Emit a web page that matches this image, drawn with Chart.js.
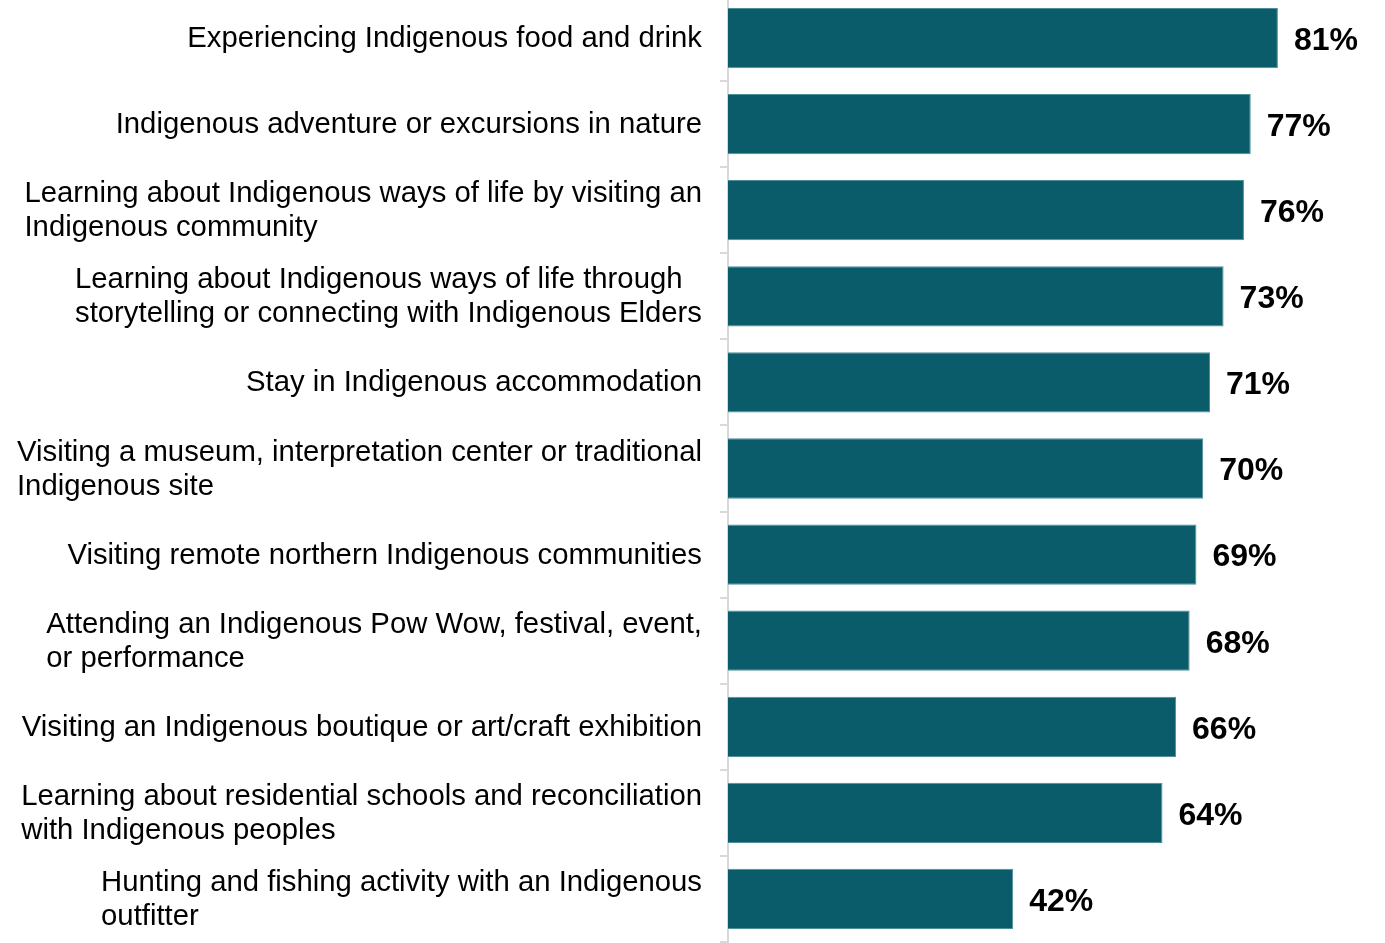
<!DOCTYPE html>
<html>
<head>
<meta charset="utf-8">
<script src="https://cdn.jsdelivr.net/npm/chart.js@4/dist/chart.umd.min.js"></script>
<style>
  html, body { margin: 0; padding: 0; background: #fff; overflow: hidden; }
  #wrap { width: 1385px; height: 948px; position: relative; top: -5px; }
</style>
</head>
<body>
<div id="wrap"><canvas id="barChart"></canvas></div>
<script>
const categories = [
    ['Experiencing Indigenous food and drink'],
    ['Indigenous adventure or excursions in nature'],
    ['Learning about Indigenous ways of life by visiting an', 'Indigenous community'],
    ['Learning about Indigenous ways of life through', 'storytelling or connecting with Indigenous Elders'],
    ['Stay in Indigenous accommodation'],
    ['Visiting a museum, interpretation center or traditional', 'Indigenous site'],
    ['Visiting remote northern Indigenous communities'],
    ['Attending an Indigenous Pow Wow, festival, event,', 'or performance'],
    ['Visiting an Indigenous boutique or art/craft exhibition'],
    ['Learning about residential schools and reconciliation', 'with Indigenous peoples'],
    ['Hunting and fishing activity with an Indigenous', 'outfitter']
];
const values = [81, 77, 76, 73, 71, 70, 69, 68, 66, 64, 42];

const labelFont = '29.3px "Liberation Sans", Arial, sans-serif';
const valueFont = 'bold 32px "Liberation Sans", Arial, sans-serif';

// category labels: block right aligned to the axis, lines left aligned inside
const labelPlugin = {
    id: 'labelPlugin',
    afterDraw(chart) {
        const ctx = chart.ctx;
        const yScale = chart.scales.y;
        ctx.save();
        ctx.font = labelFont;
        ctx.fillStyle = '#000';
        ctx.textBaseline = 'middle';
        ctx.textAlign = 'left';
        const lineH = 34;
        categories.forEach((lines, i) => {
            const y = yScale.getPixelForTick(i) + 1;
            const maxW = Math.max(...lines.map(l => ctx.measureText(l).width));
            const x = yScale.right - 26 - maxW;
            const y0 = y - (lines.length - 1) * lineH / 2;
            lines.forEach((l, j) => ctx.fillText(l, x, y0 + j * lineH));
        });
        ctx.font = valueFont;
        const meta = chart.getDatasetMeta(0);
        meta.data.forEach((bar, i) => {
            ctx.fillText(values[i] + '%', bar.x + 16, bar.y + 3);
        });
        ctx.restore();
    }
};

const config = {
    type: 'bar',
    data: {
        labels: categories.map(c => c.join(' ')),
        datasets: [{
            data: values,
            backgroundColor: '#0a5c6b',
            borderColor: '#4f8f9a',
            borderWidth: 1,
            categoryPercentage: 0.7,
            barPercentage: 1.0
        }]
    },
    options: {
        indexAxis: 'y',
        responsive: true,
        maintainAspectRatio: false,
        animation: false,
        layout: { padding: { top: 0, bottom: 1, left: 0, right: 46 } },
        plugins: {
            legend: { display: false },
            tooltip: { enabled: false }
        },
        scales: {
            x: {
                display: false,
                min: 0,
                max: 90
            },
            y: {
                afterFit(scale) { scale.width = 728; },
                border: { display: true, color: '#d9d9d9', width: 2 },
                grid: {
                    drawOnChartArea: false,
                    drawTicks: true,
                    tickLength: 8,
                    color: '#d9d9d9',
                    lineWidth: 2,
                    offset: true
                },
                ticks: { display: false }
            }
        }
    },
    plugins: [labelPlugin]
};

const barChart = new Chart(
document.getElementById('barChart').getContext('2d'),
config
);
</script>
</body>
</html>
